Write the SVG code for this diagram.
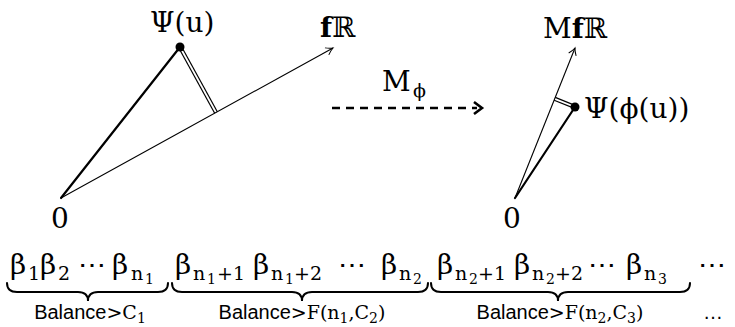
<svg xmlns="http://www.w3.org/2000/svg" width="735" height="327" viewBox="0 0 735 327">
<style>
.m{font-family:"DejaVu Serif","Liberation Serif",serif;fill:#000}
.big{font-size:28px}
.sub{font-size:19px}
.ss{font-size:14px}
.s{font-family:"Liberation Sans",Arial,sans-serif;font-size:20px;fill:#000}
.ml{font-family:"DejaVu Serif","Liberation Serif",serif;font-size:19px}
.mls{font-family:"DejaVu Serif","Liberation Serif",serif;font-size:14px}
.thin{stroke:#000;stroke-width:1.1;fill:none}
.thick{stroke:#000;stroke-width:2.2;fill:none;stroke-linecap:round}
.dbo{stroke:#000;stroke-width:4.2;fill:none}
.dbi{stroke:#fff;stroke-width:1.8;fill:none}
.brace{stroke:#000;stroke-width:2;fill:none;stroke-linecap:round}
</style>
<defs>
<marker id="ah" viewBox="-8 -6 10 12" markerWidth="10" markerHeight="12" refX="0" refY="0" markerUnits="userSpaceOnUse" orient="auto">
<path d="M-7,-4 Q-3,-1 0,0 Q-3,1 -7,4" fill="none" stroke="#000" stroke-width="1"/>
</marker>
</defs>

<g id="connectors">
<line class="dbo" x1="180" y1="47" x2="216" y2="112.5"/>
<line class="dbi" x1="180" y1="47" x2="216" y2="112.5"/>
<line class="thin" x1="61" y1="198" x2="333" y2="48" marker-end="url(#ah)"/>
<line class="thick" x1="61" y1="198" x2="180" y2="47"/>
<line x1="332" y1="108" x2="477" y2="108" stroke="#000" stroke-width="2.6" stroke-dasharray="8 6"/>
<path d="M474,102 L482,108 L474,114" fill="none" stroke="#000" stroke-width="2.6"/>
<line class="dbo" x1="575" y1="107" x2="554.7" y2="98.8"/>
<line class="dbi" x1="575" y1="107" x2="554.7" y2="98.8"/>
<line class="thin" x1="515" y1="198" x2="575" y2="48" marker-end="url(#ah)"/>
<line class="thick" x1="515" y1="198" x2="575" y2="107"/>
<path class="brace" d="M7,283 Q7,292 17,292 L78,292 Q88,292 88,301 Q88,292 98,292 L158,292 Q168,292 168,283"/>
<path class="brace" d="M172,283 Q172,292 182,292 L292,292 Q302,292 302,301 Q302,292 312,292 L418,292 Q428,292 428,283"/>
<path class="brace" d="M431,283 Q431,292 441,292 L548,292 Q558,292 558,301 Q558,292 568,292 L680,292 Q690,292 690,283"/>
</g>

<g id="psi-u">
<circle cx="180" cy="47" r="4.5" fill="#000"/>
<text class="m big" x="150" y="32">Ψ(u)</text>
</g>
<g id="fR"><text class="m big" x="320" y="37"><tspan font-weight="bold">f</tspan>ℝ</text></g>
<g id="origin-left"><text class="m big" x="60" y="228" text-anchor="middle">0</text></g>

<g id="M-phi">
<text class="m big" x="382" y="91">M<tspan class="sub" x="413" y="97">ϕ</tspan></text>
</g>

<g id="psi-phi-u">
<circle cx="575" cy="107" r="4.5" fill="#000"/>
<text class="m big" x="584" y="118">Ψ(ϕ(u))</text>
</g>
<g id="MfR"><text class="m big" x="543" y="38">M<tspan font-weight="bold">f</tspan>ℝ</text></g>
<g id="origin-right"><text class="m big" x="512" y="228" text-anchor="middle">0</text></g>

<g id="block1">
<text class="m big" y="274"><tspan x="10">β</tspan><tspan class="sub" x="28" y="280">1</tspan><tspan x="40" y="274">β</tspan><tspan class="sub" x="58" y="280">2</tspan><tspan x="78" y="274">⋯</tspan><tspan x="112" y="274">β</tspan><tspan class="sub" x="131" y="280">n</tspan><tspan class="ss" x="145" y="284">1</tspan></text>
<text x="90" y="319" text-anchor="middle"><tspan class="s">Balance</tspan><tspan class="ml">&gt;C</tspan><tspan class="mls" dy="4">1</tspan></text>
</g>

<g id="block2">
<text class="m big" y="274"><tspan x="175">β</tspan><tspan class="sub" x="193" y="280">n</tspan><tspan class="ss" x="207" y="284">1</tspan><tspan class="sub" x="217" y="280">+1</tspan><tspan x="253" y="274">β</tspan><tspan class="sub" x="271" y="280">n</tspan><tspan class="ss" x="285" y="284">1</tspan><tspan class="sub" x="294" y="280">+2</tspan><tspan x="338" y="274">⋯</tspan><tspan x="381" y="274">β</tspan><tspan class="sub" x="399" y="280">n</tspan><tspan class="ss" x="413" y="284">2</tspan></text>
<text x="302" y="319" text-anchor="middle"><tspan class="s">Balance</tspan><tspan class="ml">&gt;F(n</tspan><tspan class="mls" dy="4">1</tspan><tspan class="ml" dy="-4">,C</tspan><tspan class="mls" dy="4">2</tspan><tspan class="ml" dy="-4">)</tspan></text>
</g>

<g id="block3">
<text class="m big" y="274"><tspan x="437">β</tspan><tspan class="sub" x="455" y="280">n</tspan><tspan class="ss" x="469" y="284">2</tspan><tspan class="sub" x="478" y="280">+1</tspan><tspan x="514" y="274">β</tspan><tspan class="sub" x="532" y="280">n</tspan><tspan class="ss" x="546" y="284">2</tspan><tspan class="sub" x="555" y="280">+2</tspan><tspan x="588" y="274">⋯</tspan><tspan x="626" y="274">β</tspan><tspan class="sub" x="644" y="280">n</tspan><tspan class="ss" x="658" y="284">3</tspan></text>
<text x="560" y="319" text-anchor="middle"><tspan class="s">Balance</tspan><tspan class="ml">&gt;F(n</tspan><tspan class="mls" dy="4">2</tspan><tspan class="ml" dy="-4">,C</tspan><tspan class="mls" dy="4">3</tspan><tspan class="ml" dy="-4">)</tspan></text>
</g>

<g id="more">
<text class="m big" x="698" y="274">⋯</text>
<text class="s" x="703" y="319">…</text>
</g>
</svg>
